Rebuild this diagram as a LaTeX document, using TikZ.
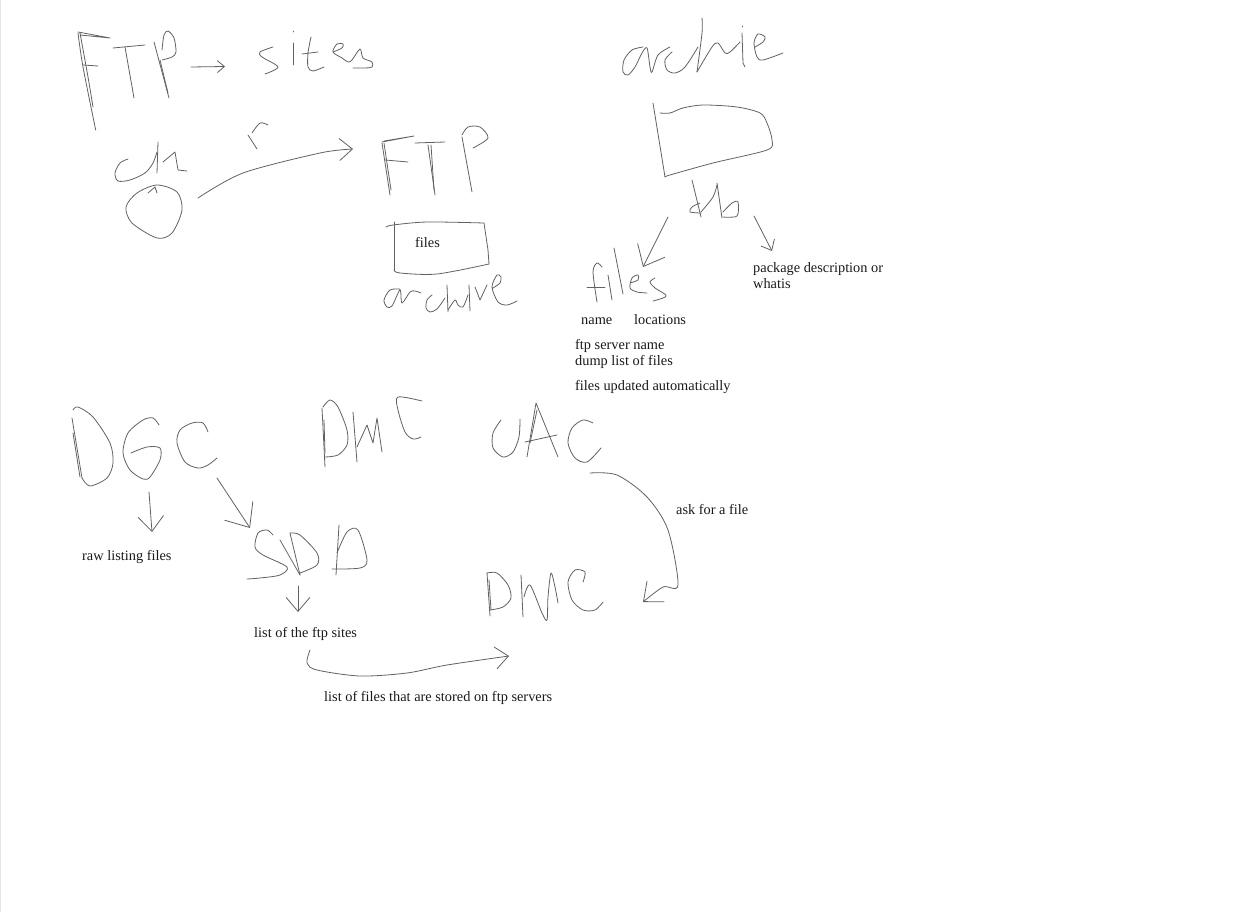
\documentclass[tikz,border=0pt]{standalone}
\usepackage{fontspec}
\setmainfont{Liberation Serif}
\usetikzlibrary{arrows.meta}
\tikzset{
  ink/.style={draw=black!62, line width=0.8pt, line cap=round, line join=round},
  arrow/.style={ink, -{Straight Barb[length=#1, width=1.7*#1, line width=0.8pt]}},
  arrow/.default=9pt,
  note/.style={inner sep=0pt, anchor=west, align=left, font=\fontsize{14.35}{16}\selectfont, text=black!90}
}
\begin{document}
\begin{tikzpicture}[x=1pt, y=-1pt]
\useasboundingbox (0,0) rectangle (1244,912);
\draw[black!10, line width=1.5pt] (0.7,0) -- (0.7,912);

\node (boxFiles) [note] at (415,243) {files};
\node (pkgNote) [note] at (753,275.5) {package description or\\whatis};
\node (nameNote) [note, anchor=base west] at (581,324.5) {name};
\node (locNote) [note, anchor=base west] at (634,324.5) {locations};
\node (dumpNote) [note] at (575,353.5) {ftp server name\\dump list of files};
\node (autoNote) [note] at (575,386.5) {files updated automatically};
\node (rawNote) [note] at (82,556.5) {raw listing files};
\node (sitesNote) [note] at (254,633.5) {list of the ftp sites};
\node (storedNote) [note] at (324,697.5) {list of files that are stored on ftp servers};
\node (askNote) [note] at (676,510) {ask for a file};

\coordinate (ftpOut) at (191,67);
\coordinate (sitesIn) at (225,66.5);
\coordinate (clientOut) at (198,198);
\coordinate (ftpIn) at (353,149);
\coordinate (dbFiles) at (668,217);
\coordinate (filesIn) at (643,267);
\coordinate (dbPkg) at (754,216);
\coordinate (pkgIn) at (772,251);
\coordinate (dgcRaw) at (149,492);
\coordinate (rawIn) at (152,532);
\coordinate (dgcSdd) at (217,478);
\coordinate (sddIn) at (250,528);
\coordinate (sddOut) at (298,586);
\coordinate (listIn) at (298,612);
\coordinate (listOut) at (310,650);
\coordinate (dmcBottom) at (509,656);
\coordinate (uacOut) at (590,473);
\coordinate (dmcIn) at (643,602);

% FTP, sites
\draw[ink] plot[smooth] coordinates {(78,33) (83,67) (95.7,130)};
\draw[ink] plot[smooth] coordinates {(80,33) (88,77) (93,107)};
\draw[ink] (78,32) -- (110,38) -- (80,35);
\draw[ink] (83,65) -- (98,66);
\draw[ink] (113,48) -- (145,45);
\draw[ink] (125,47) -- (134,98);
\draw[ink] (154,42) -- (169,98);
\draw[ink] (160,60) -- (168,93);
\draw[ink] plot[smooth] coordinates {(162,50) (164,35) (168,31) (174,38) (176,52) (172,57) (162,60)};
\draw[arrow=7pt] (ftpOut) -- (sitesIn);
\draw[ink] plot[smooth] coordinates {(273,47) (260,52) (262,57) (278,67) (265,74)};
\draw[ink] (293,31) -- (293,32);
\draw[ink] (293,43) -- (293,65);
\draw[ink] plot[smooth] coordinates {(311,37) (308,53) (308,67) (313,71) (324,67)};
\draw[ink] (302,54) -- (318,52);
\draw[ink] plot[smooth] coordinates {(333,52) (342,48) (343,44) (337,44) (333,52) (342,58) (348,62) (352,60) (360,49) (363,58) (372,62) (372,67) (365,68) (353,68)};

% client and archive
\draw[ink] plot[smooth] coordinates {(128,159) (120,163) (115,173) (118,181) (130,180) (145,173) (153,163) (157,152)};
\draw[ink] (158,142) -- (157,173);
\draw[ink] (163,162) -- (175,152) -- (178,170) -- (187,171);
\draw[ink] plot[smooth cycle] coordinates {(157,185) (137,193) (126,207) (132,223) (157,238) (172,233) (182,210) (177,192)};
\draw[ink] (148,193) -- (155,187) -- (157,193);
\draw[ink] (248,135) -- (257,149);
\draw[ink] plot[smooth] coordinates {(252,133) (260,123) (268,125)};
\draw[arrow=13pt] plot[smooth] coordinates {(clientOut) (243,173) (320,153) (ftpIn)};
\draw[ink] (382,143) -- (390,195);
\draw[ink] (384,143) -- (391,190);
\draw[ink] (382,142) -- (414,136) -- (384,141);
\draw[ink] (385,160) -- (408,162);
\draw[ink] (415,143) -- (445,142);
\draw[ink] (428,145) -- (435,195);
\draw[ink] (431,145) -- (434,190);
\draw[ink] (462,137) -- (472,192);
\draw[ink] plot[smooth] coordinates {(462,135) (468,127) (480,127) (488,138) (473,148)};
\draw[ink] plot[smooth] coordinates {(386,227) (393,225) (427,222) (484,223)};
\draw[ink] (484,223) -- (488,250) -- (489,264);
\draw[ink] plot[smooth] coordinates {(489,264) (437,274) (400,273) (394,270)};
\draw[ink] (394,270) -- (394,222);
\draw[ink] plot[smooth] coordinates {(400,289) (390,290) (384,300) (387,307) (392,306) (400,290) (402,303) (410,292) (415,291) (421,293)};
\draw[ink] plot[smooth] coordinates {(432,295) (427,300) (426,308) (430,312) (437,309) (445,298)};
\draw[ink] (447,285) -- (448,312);
\draw[ink] plot[smooth] coordinates {(448,310) (455,300) (458,305) (463,307) (468,295)};
\draw[ink] (469,285) -- (470,311);
\draw[ink] (475,287) -- (480,300) -- (487,285);
\draw[ink] plot[smooth] coordinates {(493,288) (500,283) (501,277) (497,275) (492,287) (498,302) (507,305) (517,301)};

% archie, db, files
\draw[ink] plot[smooth] coordinates {(643,47) (632,50) (624,60) (623,72) (628,75) (635,67) (642,53) (647,48) (650,67) (652,72) (658,55) (670,47)};
\draw[ink] plot[smooth] coordinates {(672,52) (665,60) (667,70) (675,73) (685,67) (698,47)};
\draw[ink] plot[smooth] coordinates {(702,18) (702,33) (697,72)};
\draw[ink] plot[smooth] coordinates {(697,72) (712,47) (718,43) (725,53) (730,52) (740,42)};
\draw[ink] (742,33) -- (743,63) -- (745,67);
\draw[ink] (742,26) -- (742,27);
\draw[ink] plot[smooth] coordinates {(755,47) (763,42) (765,37) (758,34) (754,43) (757,57) (763,60) (783,53)};
\draw[ink] (653,103) -- (665,177);
\draw[ink] plot[smooth] coordinates {(665,177) (670,175) (713,163) (767,150) (772,140) (767,123) (760,113) (737,107) (703,105) (683,108) (670,113) (660,113)};
\draw[ink] (692,180) -- (701,217);
\draw[ink] plot[smooth] coordinates {(700,203) (692,207) (690,212) (701,213)};
\draw[ink] plot[smooth] coordinates {(701,212) (713,197) (717,185)};
\draw[ink] (717,183) -- (722,218);
\draw[ink] plot[smooth] coordinates {(723,212) (732,203) (738,202) (737,216) (723,217)};
\draw[arrow=18pt] (dbFiles) -- (filesIn);
\draw[arrow=9pt] (dbPkg) -- (pkgIn);
\draw[ink] plot[smooth] coordinates {(602,267) (597,263) (593,272) (597,302)};
\draw[ink] (587,287) -- (605,287);
\draw[ink] (608,275) -- (612,300);
\draw[ink] (614,248) -- (623,294);
\draw[ink] plot[smooth] coordinates {(630,283) (638,280) (638,275) (632,278) (630,288) (637,292) (647,293)};
\draw[ink] plot[smooth] coordinates {(655,278) (650,282) (655,288) (666,295) (663,298) (653,301)};

% DGC, SDD
\draw[ink] (72,418) -- (82,478);
\draw[ink] (73,433) -- (80,477);
\draw[ink] plot[smooth] coordinates {(73,410) (78,407) (93,417) (110,443) (113,463) (107,478) (90,486) (82,478)};
\draw[ink] plot[smooth] coordinates {(159,425) (153,418) (143,420) (128,433) (123,453) (130,470) (143,479) (150,477) (160,460) (160,448) (147,447) (131,453)};
\draw[ink] plot[smooth] coordinates {(208,432) (203,423) (192,423) (180,430) (177,443) (185,462) (198,468) (208,465) (217,458)};
\draw[arrow=15pt] (dgcRaw) -- (rawIn);
\draw[arrow=20pt] (dgcSdd) -- (sddIn);
\draw[ink] plot[smooth] coordinates {(273,535) (267,530) (258,533) (255,547) (263,555) (287,567) (280,575) (260,578) (247,579)};
\draw[ink] (280,540) -- (300,575);
\draw[ink] (290,533) -- (300,575);
\draw[ink] plot[smooth] coordinates {(290,533) (300,535) (317,553) (317,565) (300,573)};
\draw[ink] (339,525) -- (336,575);
\draw[ink] plot[smooth] coordinates {(337,553) (347,532) (358,530) (367,560) (360,568) (332,569)};
\draw[arrow=14pt] (sddOut) -- (listIn);
\draw[arrow=13pt] plot[smooth] coordinates {(listOut) (307,663) (317,670) (360,676) (407,673) (447,665) (dmcBottom)};

% DMC, UAC
\draw[ink] (322,408) -- (325,467);
\draw[ink] (324,420) -- (325,453);
\draw[ink] plot[smooth] coordinates {(323,407) (330,400) (338,407) (347,430) (347,445) (338,455) (325,457)};
\draw[ink] (353,412) -- (357,462);
\draw[ink] (357,447) -- (367,425) -- (373,443) -- (377,418) -- (382,452);
\draw[ink] plot[smooth] coordinates {(422,401) (398,397) (398,410) (405,432) (413,439) (421,437)};
\draw[ink] plot[smooth] coordinates {(501,420) (493,433) (493,448) (503,457) (513,452) (519,437) (520,419)};
\draw[ink] (527,457) -- (536,403) -- (558,457);
\draw[ink] (530,443) -- (537,410);
\draw[ink] (525,442) -- (557,435);
\draw[ink] plot[smooth] coordinates {(593,423) (583,420) (572,428) (568,443) (575,458) (587,462) (601,448)};
\draw[arrow=16pt] plot[smooth] coordinates {(uacOut) (617,475) (647,497) (668,530) (678,585) (663,587) (dmcIn)};
\draw[ink] (487,573) -- (490,616);
\draw[ink] (489,580) -- (491,610);
\draw[ink] plot[smooth] coordinates {(487,573) (497,573) (508,585) (511,598) (503,607) (490,610)};
\draw[ink] (521,575) -- (523,617);
\draw[ink] plot[smooth] coordinates {(524,597) (530,585) (542,613) (547,620) (548,597) (551,573) (555,587) (558,603)};
\draw[ink] plot[smooth] coordinates {(583,582) (585,572) (575,570) (568,582) (572,600) (583,610) (595,610) (603,602)};
\end{tikzpicture}
\end{document}
